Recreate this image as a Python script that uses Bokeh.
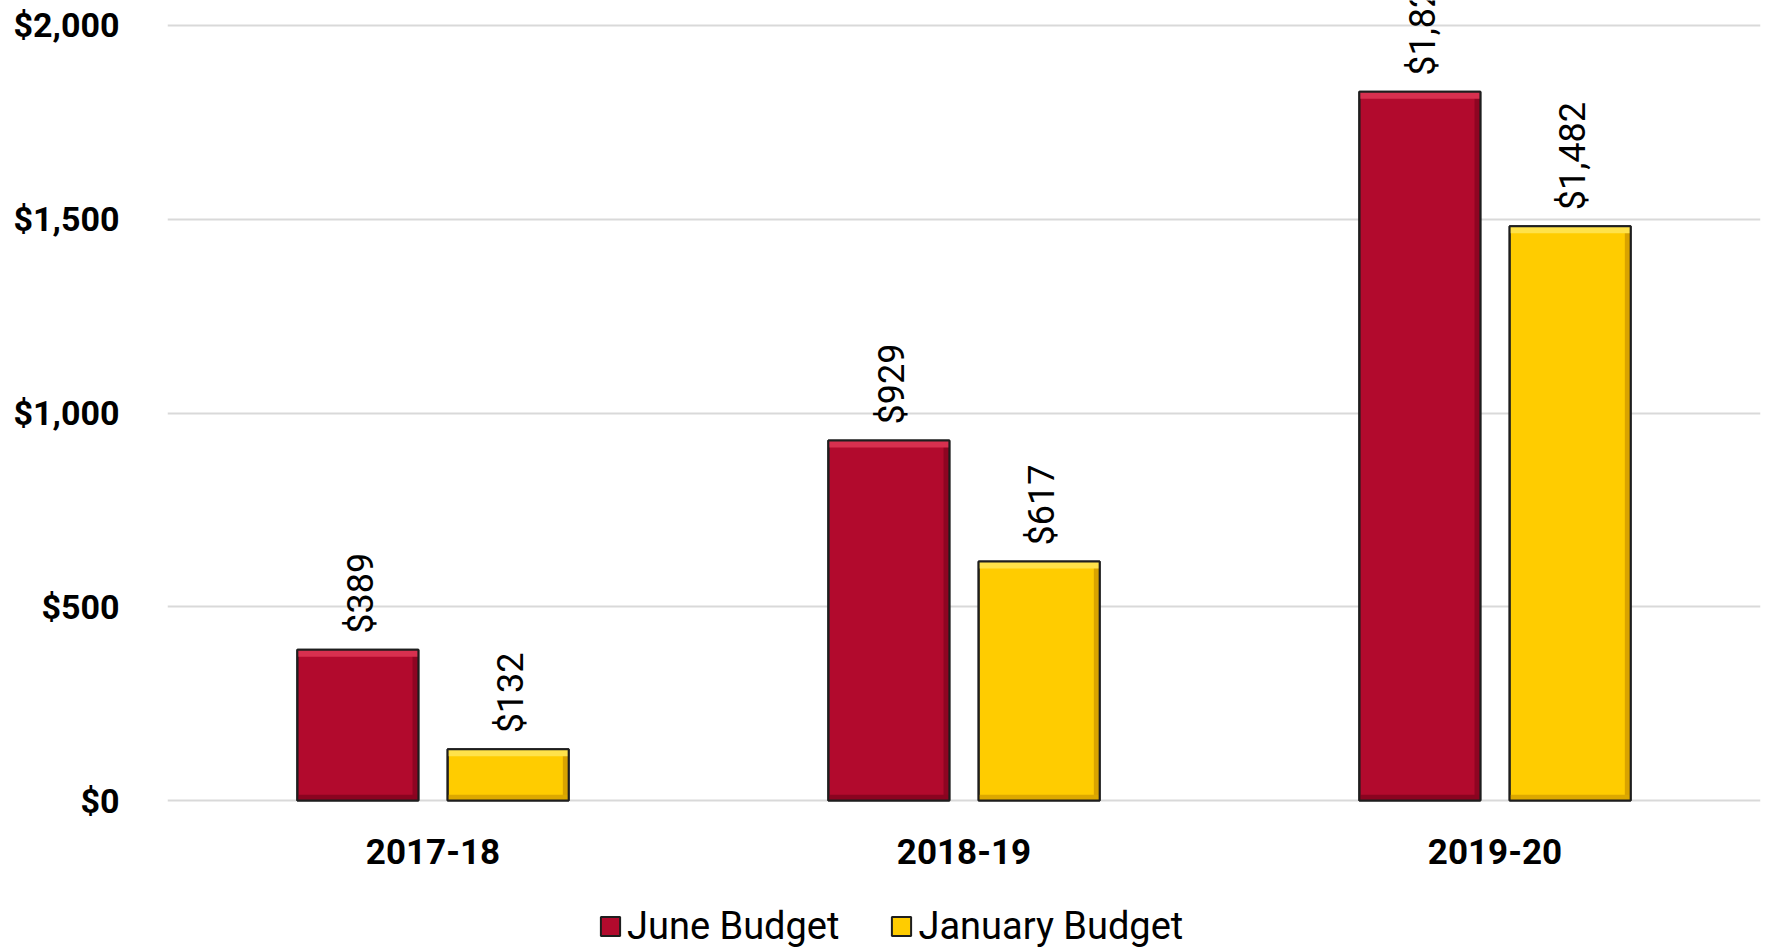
from bokeh.plotting import figure
from bokeh.models import FactorRange, Range1d, NumeralTickFormatter, Legend, LegendItem, ColumnDataSource
from bokeh.transform import dodge
from bokeh.core.properties import value
from bokeh.embed import file_html
from bokeh.resources import INLINE
import math

categories = ["2017-18", "2018-19", "2019-20"]
june_budget = [389, 929, 1829]
january_budget = [132, 617, 1482]
june_labels = ["$389", "$929", "$1,829"]
january_labels = ["$132", "$617", "$1,482"]
y_ticks = [0, 500, 1000, 1500, 2000]

RED = "#B20A2D"
RED_HI = "#D8304F"
RED_SIDE = "#8E0522"
RED_LO = "#8A0420"
YEL = "#FFCC00"
YEL_HI = "#FFE24A"
YEL_SIDE = "#D9A300"
YEL_LO = "#DCA800"
EDGE = "#1E1E1E"
FONT = "Roboto"

src = ColumnDataSource(dict(
    cat=categories, june=june_budget, jan=january_budget,
    june_lab=june_labels, jan_lab=january_labels,
    june_hi=[v - 18 for v in june_budget], jan_hi=[v - 18 for v in january_budget],
    zero=[0, 0, 0], lo=[15, 15, 15],
))

# frame spans the full canvas height; the space under $0 holds category labels and legend
p = figure(x_range=FactorRange(*categories), y_range=Range1d(-381.9, 2064.5),
           frame_width=1593, frame_height=948, min_border_left=167, min_border_right=7,
           min_border_top=0, min_border_bottom=0,
           output_backend="svg", toolbar_location=None)
p.outline_line_color = None
p.background_fill_color = "white"

W = 0.228
OFF = 0.1415
SW = 0.011
r_june = p.vbar(x=dodge("cat", -OFF, range=p.x_range), top="june", bottom=0, width=W, source=src,
                fill_color=RED, line_color=EDGE, line_width=2)
r_jan = p.vbar(x=dodge("cat", OFF, range=p.x_range), top="jan", bottom=0, width=W, source=src,
               fill_color=YEL, line_color=EDGE, line_width=2)
# bevel: right-side shade, bottom shade, top highlight
p.vbar(x=dodge("cat", -OFF + W / 2 - SW / 2, range=p.x_range), top="june", bottom=0, width=SW,
       source=src, fill_color=RED_SIDE, line_color=None)
p.vbar(x=dodge("cat", OFF + W / 2 - SW / 2, range=p.x_range), top="jan", bottom=0, width=SW,
       source=src, fill_color=YEL_SIDE, line_color=None)
p.vbar(x=dodge("cat", -OFF, range=p.x_range), top="lo", bottom="zero", width=W, source=src,
       fill_color=RED_LO, line_color=None)
p.vbar(x=dodge("cat", OFF, range=p.x_range), top="lo", bottom="zero", width=W, source=src,
       fill_color=YEL_LO, line_color=None)
p.vbar(x=dodge("cat", -OFF, range=p.x_range), top="june", bottom="june_hi", width=W, source=src,
       fill_color=RED_HI, line_color=None)
p.vbar(x=dodge("cat", OFF, range=p.x_range), top="jan", bottom="jan_hi", width=W, source=src,
       fill_color=YEL_HI, line_color=None)
p.vbar(x=dodge("cat", -OFF, range=p.x_range), top="june", bottom=0, width=W, source=src,
       fill_color=None, line_color=EDGE, line_width=2)
p.vbar(x=dodge("cat", OFF, range=p.x_range), top="jan", bottom=0, width=W, source=src,
       fill_color=None, line_color=EDGE, line_width=2)

for col, lab, off in (("june", "june_lab", -OFF), ("jan", "jan_lab", OFF)):
    p.text(x=dodge("cat", off + 0.006, range=p.x_range), y=col, text=lab, source=src,
           angle=math.pi / 2, text_align="left", text_baseline="middle",
           y_offset=-16, text_font=value(FONT), text_font_size="36px", text_color="black")

# category labels under the baseline
p.text(x="cat", y="zero", text="cat", source=src, text_align="center", text_baseline="middle",
       y_offset=51, text_font=value(FONT), text_font_style="bold", text_font_size="35px",
       text_color="black")

p.xaxis.visible = False
p.xgrid.grid_line_color = None
p.ygrid.grid_line_color = "#D9D9D9"
p.ygrid.grid_line_width = 2
p.ygrid.ticker = y_ticks
p.yaxis.ticker = y_ticks
p.yaxis.formatter = NumeralTickFormatter(format="$0,0")
ax = p.yaxis[0]
ax.axis_line_color = None
ax.major_tick_line_color = None
ax.minor_tick_line_color = None
ax.major_tick_out = 0
ax.major_tick_in = 0
ax.axis_label_standoff = 0
ax.major_label_text_font = FONT
ax.major_label_text_font_style = "bold"
ax.major_label_text_font_size = "34px"
ax.major_label_text_color = "black"
ax.major_label_standoff = 48

legend = Legend(items=[LegendItem(label="June Budget", renderers=[r_june]),
                       LegendItem(label="January Budget", renderers=[r_jan])],
                orientation="horizontal", location=(431, 0),
                label_text_font=FONT, label_text_font_size="38px", label_text_color="black",
                glyph_width=24, glyph_height=24, label_standoff=5, spacing=50,
                border_line_color=None, background_fill_alpha=0, padding=0, margin=0)
p.add_layout(legend, "center")

open("out.html", "w").write(file_html(p, INLINE))
